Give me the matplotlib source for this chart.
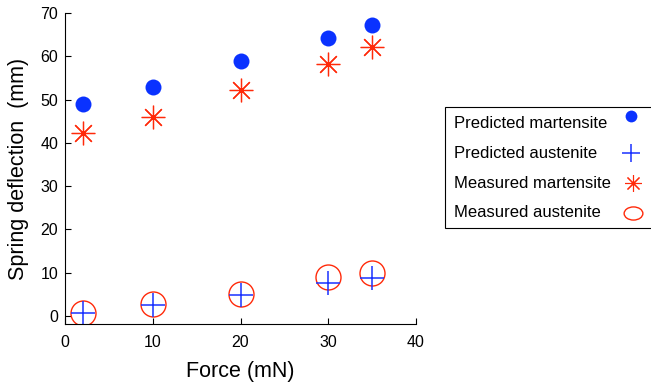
import matplotlib
matplotlib.use('Agg')
import matplotlib.pyplot as plt
from matplotlib.lines import Line2D
from matplotlib.patches import Rectangle
from matplotlib.path import Path

plt.rcParams['font.family'] = ['Liberation Sans', 'DejaVu Sans']

force = [2, 10, 20, 30, 35]
pred_mart = [48.9, 53.0, 58.8, 64.2, 67.2]
pred_aust = [0.7, 2.5, 4.8, 7.7, 8.8]
meas_mart = [42.2, 46.0, 52.1, 58.2, 62.2]
meas_aust = [0.7, 2.8, 5.0, 9.0, 9.9]

labels = ['Predicted martensite', 'Predicted austenite', 'Measured martensite', 'Measured austenite']

W, H = 651, 385
fig = plt.figure(figsize=(W / 100, H / 100), dpi=100)
ax = fig.add_axes([65 / W, 1 - 324 / H, 351 / W, 311 / H])

blue = '#0a32ff'
red = '#ff2a0a'
styles = [
    dict(marker='o', color=blue, markeredgewidth=0),
    dict(marker='+', color='#1a32ff', markeredgewidth=1.1),
    dict(marker=(8, 2, 0), color=red, markeredgewidth=0.9),
    dict(marker='o', color=red, markerfacecolor='none', markeredgewidth=1.0),
]
plot_sizes = [11.5, 17, 17, 18]
series = [pred_mart, pred_aust, meas_mart, meas_aust]

for i in [0, 3, 1, 2]:
    ax.plot(force, series[i], linestyle='none', markersize=plot_sizes[i], **styles[i])

ax.set_xlim(0, 40)
ax.set_ylim(-1.85, 70)
ax.set_xticks([0, 10, 20, 30, 40])
ax.set_yticks([0, 10, 20, 30, 40, 50, 60, 70])
ax.spines['top'].set_visible(False)
ax.spines['right'].set_visible(False)
ax.spines['bottom'].set_bounds(0, 40)
ax.tick_params(direction='in', length=4, labelsize=11.5, width=0.8)
ax.tick_params(axis='x', pad=8)
ax.tick_params(axis='y', pad=5)
ax.set_xlabel('Force (mN)', fontsize=15.5, labelpad=8)
ax.set_ylabel('Spring deflection  (mm)', fontsize=15.5, labelpad=8)

# legend drawn by hand: text left-aligned, marker at right
fig.patches.append(Rectangle((445 / W, 1 - 228 / H), 210 / W, 121 / H,
                             transform=fig.transFigure, facecolor='white',
                             edgecolor='black', linewidth=0.8, clip_on=False))
circ = Path.unit_circle()
ellipse = Path(circ.vertices * [1.0, 0.7], circ.codes)
leg_styles = [dict(s) for s in styles]
leg_styles[2]['markeredgewidth'] = 0.8
leg_styles[3]['marker'] = ellipse
text_y = [123, 153, 183, 213]
mark_y = [116, 153, 183, 213]
mark_x = [631, 631, 633, 633]
leg_sizes = [8.5, 13, 12, 13.5]
for i, lab in enumerate(labels):
    fig.text(454 / W, 1 - text_y[i] / H, lab, fontsize=12, ha='left', va='center')
    fig.add_artist(Line2D([mark_x[i] / W], [1 - mark_y[i] / H], transform=fig.transFigure,
                          linestyle='none', markersize=leg_sizes[i], **leg_styles[i]))

fig.savefig('out.png', dpi=100)
